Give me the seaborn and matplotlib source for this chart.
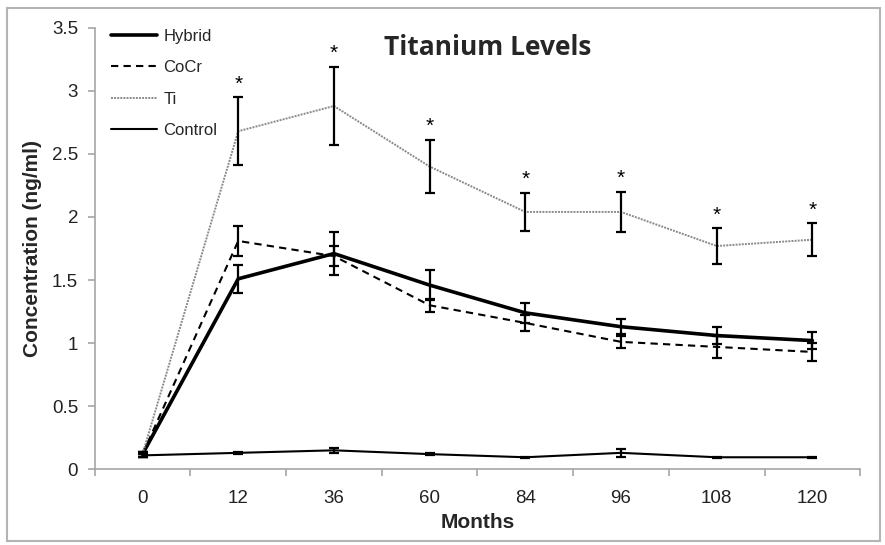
import numpy as np
import matplotlib
matplotlib.use("Agg")
import matplotlib.pyplot as plt
import seaborn as sns
from matplotlib.patches import Rectangle

sns.set_theme(style="white")
plt.rcParams['font.family'] = ['Liberation Sans', 'DejaVu Sans']

# data
months = ['0', '12', '36', '60', '84', '96', '108', '120']
hybrid = [0.12, 1.51, 1.71, 1.46, 1.24, 1.13, 1.06, 1.02]
hybrid_err = [0.02, 0.11, 0.17, 0.12, 0.08, 0.06, 0.07, 0.07]
cocr = [0.12, 1.81, 1.69, 1.30, 1.16, 1.01, 0.97, 0.93]
cocr_err = [0.02, 0.12, 0.08, 0.05, 0.06, 0.05, 0.09, 0.07]
ti = [0.12, 2.68, 2.88, 2.40, 2.04, 2.04, 1.77, 1.82]
ti_err = [0.02, 0.27, 0.31, 0.21, 0.15, 0.16, 0.14, 0.13]
control = [0.11, 0.13, 0.15, 0.12, 0.095, 0.13, 0.095, 0.095]
control_err = [0.01, 0.01, 0.02, 0.01, 0.005, 0.03, 0.005, 0.005]
significant = [False, True, True, True, True, True, True, True]

pos = np.arange(len(months))

fig = plt.figure(figsize=(8.85, 5.45), dpi=100)
ax = fig.add_axes([0.107, 0.139, 0.865, 0.81])

series = [
    ('Hybrid', hybrid, hybrid_err, dict(color='black', lw=2.6, ls='-')),
    ('CoCr', cocr, cocr_err, dict(color='black', lw=1.5, ls=(0, (3.5, 2.5)))),
    ('Ti', ti, ti_err, dict(color='#8a8a8a', lw=1.4, ls=(0, (1, 0.6)))),
    ('Control', control, control_err, dict(color='black', lw=1.5, ls='-')),
]

for name, vals, err, st in series:
    sns.lineplot(x=pos, y=vals, ax=ax, label=name, color=st['color'],
                 linewidth=st['lw'], linestyle=st['ls'])
    ax.errorbar(pos, vals, yerr=err, fmt='none', ecolor='black',
                elinewidth=1.6, capsize=3.5, capthick=1.6, zorder=3)

# significance stars over Ti
for i, s in enumerate(significant):
    if s:
        ax.text(pos[i], ti[i] + ti_err[i] + 0.03, '*', ha='center', va='bottom',
                fontsize=15, color='black')

ax.set_xlim(-0.5, len(months) - 0.5)
ax.set_ylim(0, 3.5)
ax.set_yticks(np.arange(0, 3.51, 0.5))
ax.set_yticklabels(['%g' % v for v in np.arange(0, 3.51, 0.5)])
ax.set_xticks(pos)
ax.set_xticklabels(months)
ax.set_xticks(np.arange(-0.5, len(months)), minor=True)

for s in ['top', 'right']:
    ax.spines[s].set_visible(False)
for s in ['left', 'bottom']:
    ax.spines[s].set_color('#a6a6a6')
    ax.spines[s].set_linewidth(1.2)

ax.tick_params(axis='x', which='major', length=0, pad=15, labelsize=13.5, colors='#222222')
ax.tick_params(axis='x', which='minor', length=5, width=1.2, color='#a6a6a6', direction='out', bottom=True)
ax.tick_params(axis='y', length=5, width=1.2, color='#a6a6a6', direction='out', left=True,
               pad=7, labelsize=13.5, labelcolor='#222222')

ax.set_xlabel('Months', fontsize=15, fontweight='bold', labelpad=4)
ax.set_ylabel('Concentration (ng/ml)', fontsize=15, fontweight='bold', labelpad=7)

ax.text(0.514, 0.955, 'Titanium Levels', transform=ax.transAxes, ha='center', va='center',
        fontsize=19, fontweight='bold', family=['Open Sans', 'DejaVu Sans'])

leg = ax.legend(loc='upper left', bbox_to_anchor=(0.008, 1.02), frameon=False, fontsize=12,
                handlelength=2.75, handletextpad=0.4, labelspacing=0.98, borderaxespad=0.2)

fig.patches.append(Rectangle((7 / 885, 4 / 545), 873 / 885, 533 / 545, transform=fig.transFigure,
                             fill=False, edgecolor='#b4b4b4', linewidth=1.5))

fig.savefig('out.png', dpi=100)
